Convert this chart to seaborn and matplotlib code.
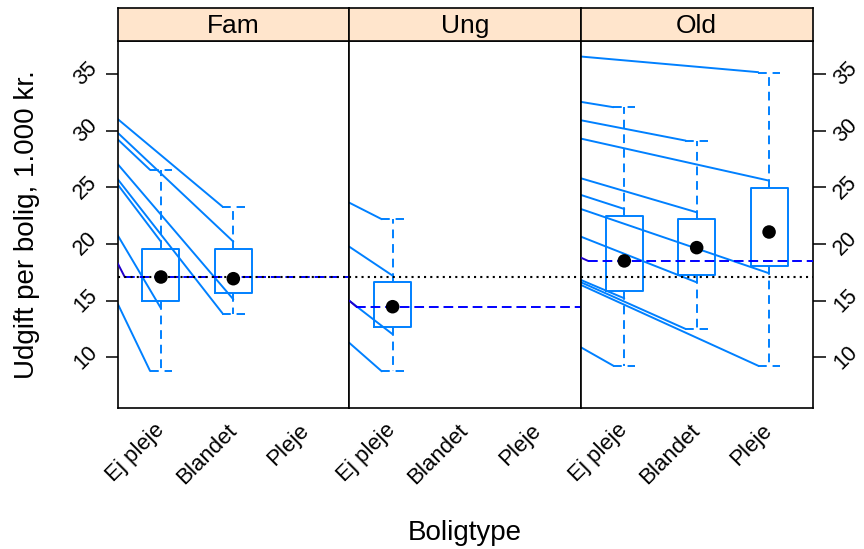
import numpy as np
import pandas as pd
import matplotlib
matplotlib.use("Agg")
import matplotlib.pyplot as plt
import seaborn as sns

# ---------------- data ----------------
panels = ["Fam", "Ung", "Old"]
categories = ["Ej pleje", "Blandet", "Pleje"]
yticks = [10, 15, 20, 25, 30, 35]

# box statistics (category index 1..3)
fam_box_cat = [1, 2]
fam_median = [17.08, 16.93]
fam_q1 = [14.94, 15.70]
fam_q3 = [19.58, 19.58]
fam_lo = [8.79, 13.85]
fam_hi = [26.53, 23.26]

ung_box_cat = [1]
ung_median = [14.46]
ung_q1 = [12.64]
ung_q3 = [16.64]
ung_lo = [8.76]
ung_hi = [22.18]

old_box_cat = [1, 2, 3]
old_median = [18.50, 19.67, 21.05]
old_q1 = [15.88, 17.26, 18.03]
old_q3 = [22.50, 22.17, 24.97]
old_lo = [9.25, 12.49, 9.25]
old_hi = [32.06, 29.12, 35.12]

# panel means (blue dashed), lead-in values, overall mean (black dotted)
panel_mean = [17.08, 14.46, 18.50]
panel_mean_lead = [18.32, 15.00, 18.79]
overall_mean = 17.08

# individual trend lines: value at panel's left edge -> end point
fam_line_start = [31.03, 29.82, 29.24, 27.06, 25.73, 25.26, 20.79, 14.76]
fam_line_end_x = [1.85, 2.00, 0.85, 2.00, 1.85, 1.00, 1.00, 0.85]
fam_line_end_y = [23.29, 20.20, 26.53, 15.11, 13.88, 20.20, 14.32, 8.79]

ung_line_start = [23.64, 19.76, 14.99, 11.28]
ung_line_end_x = [0.85, 1.00, 1.00, 0.85]
ung_line_end_y = [22.18, 17.20, 12.03, 8.76]

old_line_start = [36.53, 32.53, 30.91, 29.29, 25.79, 24.32, 23.08, 20.64,
                  16.82, 16.62, 16.38, 10.88]
old_line_end_x = [2.85, 0.85, 1.85, 3.00, 2.00, 1.00, 3.00, 2.00,
                  1.00, 1.85, 2.85, 0.85]
old_line_end_y = [35.15, 32.06, 29.11, 25.58, 22.79, 23.08, 17.41, 16.61,
                  15.20, 12.49, 9.25, 9.25]

# ---------------- tables ----------------
box_data = {
    "Fam": (fam_box_cat, fam_median, fam_q1, fam_q3, fam_lo, fam_hi),
    "Ung": (ung_box_cat, ung_median, ung_q1, ung_q3, ung_lo, ung_hi),
    "Old": (old_box_cat, old_median, old_q1, old_q3, old_lo, old_hi),
}
line_data = {
    "Fam": (fam_line_start, fam_line_end_x, fam_line_end_y),
    "Ung": (ung_line_start, ung_line_end_x, ung_line_end_y),
    "Old": (old_line_start, old_line_end_x, old_line_end_y),
}

# ---------------- style ----------------
sns.set_theme(style="white")
plt.rcParams["font.family"] = ["Liberation Sans", "DejaVu Sans"]
plt.rcParams["text.color"] = "black"
plt.rcParams["axes.labelcolor"] = "black"
plt.rcParams["xtick.color"] = "black"
plt.rcParams["ytick.color"] = "black"

LB = "#0080ff"
XLIM = (0.4, 3.6)
YLIM = (5.55, 37.9)

W, H = 864, 549
fig = plt.figure(figsize=(W / 100, H / 100), dpi=100)
fig.patch.set_facecolor("white")

p_left, p_w = 117.5, 231.67
p_top, p_bot = 41.0, 407.7
s_top = 8.3

dash_w = (0, (4.5, 3))
dash_m = (0, (5, 2.5))
dot = (0, (1, 2))

axes = []
for i, name in enumerate(panels):
    ax = fig.add_axes([(p_left + i * p_w) / W, (H - p_bot) / H, p_w / W, (p_bot - p_top) / H])
    sax = fig.add_axes([(p_left + i * p_w) / W, (H - p_top) / H, p_w / W, (p_top - s_top) / H])
    axes.append(ax)

    # strip
    sax.set_facecolor("#FFE5CC")
    sax.set_xticks([])
    sax.set_yticks([])
    for sp in sax.spines.values():
        sp.set_color("black")
        sp.set_linewidth(1.2)
    sax.text(0.5, 0.45, name, ha="center", va="center", fontsize=19, color="black",
             transform=sax.transAxes)

    # individual lines
    st, ex, ey = line_data[name]
    rows = []
    for j in range(len(st)):
        rows.append({"line": j, "x": XLIM[0], "y": st[j]})
        rows.append({"line": j, "x": ex[j], "y": ey[j]})
    df = pd.DataFrame(rows)
    sns.lineplot(data=df, x="x", y="y", units="line", estimator=None, sort=False,
                 color=LB, linewidth=1.4, ax=ax, legend=False, zorder=2)

    # boxes
    cats, med, q1, q3, lo, hi = box_data[name]
    stats = [dict(med=med[k], q1=q1[k], q3=q3[k], whislo=lo[k], whishi=hi[k], fliers=[])
             for k in range(len(cats))]
    ax.bxp(stats, positions=cats, widths=0.51, capwidths=0.31, showfliers=False,
           boxprops=dict(color=LB, linewidth=1.4),
           whiskerprops=dict(color=LB, linewidth=1.4, linestyle=dash_w),
           capprops=dict(color=LB, linewidth=1.4, linestyle=dash_w),
           medianprops=dict(linewidth=0), manage_ticks=False, zorder=3)

    # panel mean line with lead-in, overall mean
    ax.plot([XLIM[0], 0.5], [panel_mean_lead[i], panel_mean[i]], color="#2200cc",
            linewidth=1.4, zorder=4)
    ax.plot([0.5, 3.6], [panel_mean[i], panel_mean[i]], color="#0000ff",
            linewidth=1.4, linestyle=dash_m, zorder=4)
    ax.axhline(overall_mean, color="black", linewidth=1.5, linestyle=dot, zorder=5)

    # medians
    sns.scatterplot(x=cats, y=med, color="black", s=95, edgecolor="none",
                    ax=ax, legend=False, zorder=6)

    ax.set_xlim(*XLIM)
    ax.set_ylim(*YLIM)
    ax.set_facecolor("white")
    for sp in ax.spines.values():
        sp.set_color("black")
        sp.set_linewidth(1.2)
        sp.set_visible(True)

    ax.set_xticks([1, 2, 3], labels=categories, rotation=45, ha="right", va="center",
                  rotation_mode="anchor", fontsize=16)
    ax.tick_params(axis="x", length=0, pad=14)
    ax.set_xlabel("")
    ax.set_ylabel("")

    if name == "Fam":
        ax.set_yticks(yticks, labels=[str(t) for t in yticks], rotation=45,
                      ha="center", va="center", fontsize=15.5)
        ax.tick_params(axis="y", left=True, right=False, length=9, width=1.1,
                       direction="out", pad=14, colors="black")
    elif name == "Old":
        ax.yaxis.tick_right()
        ax.set_yticks(yticks, labels=[str(t) for t in yticks], rotation=45,
                      ha="center", va="center", fontsize=15.5)
        ax.tick_params(axis="y", left=False, right=True, labelleft=False, labelright=True,
                       length=9, width=1.1, direction="out", pad=15, colors="black")
    else:
        ax.set_yticks(yticks)
        ax.tick_params(axis="y", left=False, right=False, labelleft=False, labelright=False)

axes[0].set_ylabel("Udgift per bolig, 1.000 kr.", fontsize=20)
axes[0].yaxis.set_label_coords((40 - p_left) / p_w, 0.5)
axes[1].set_xlabel("Boligtype", fontsize=20)
axes[1].xaxis.set_label_coords(0.5, -(520 - p_bot) / (p_bot - p_top))

fig.savefig("out.png", dpi=100, facecolor="white")
